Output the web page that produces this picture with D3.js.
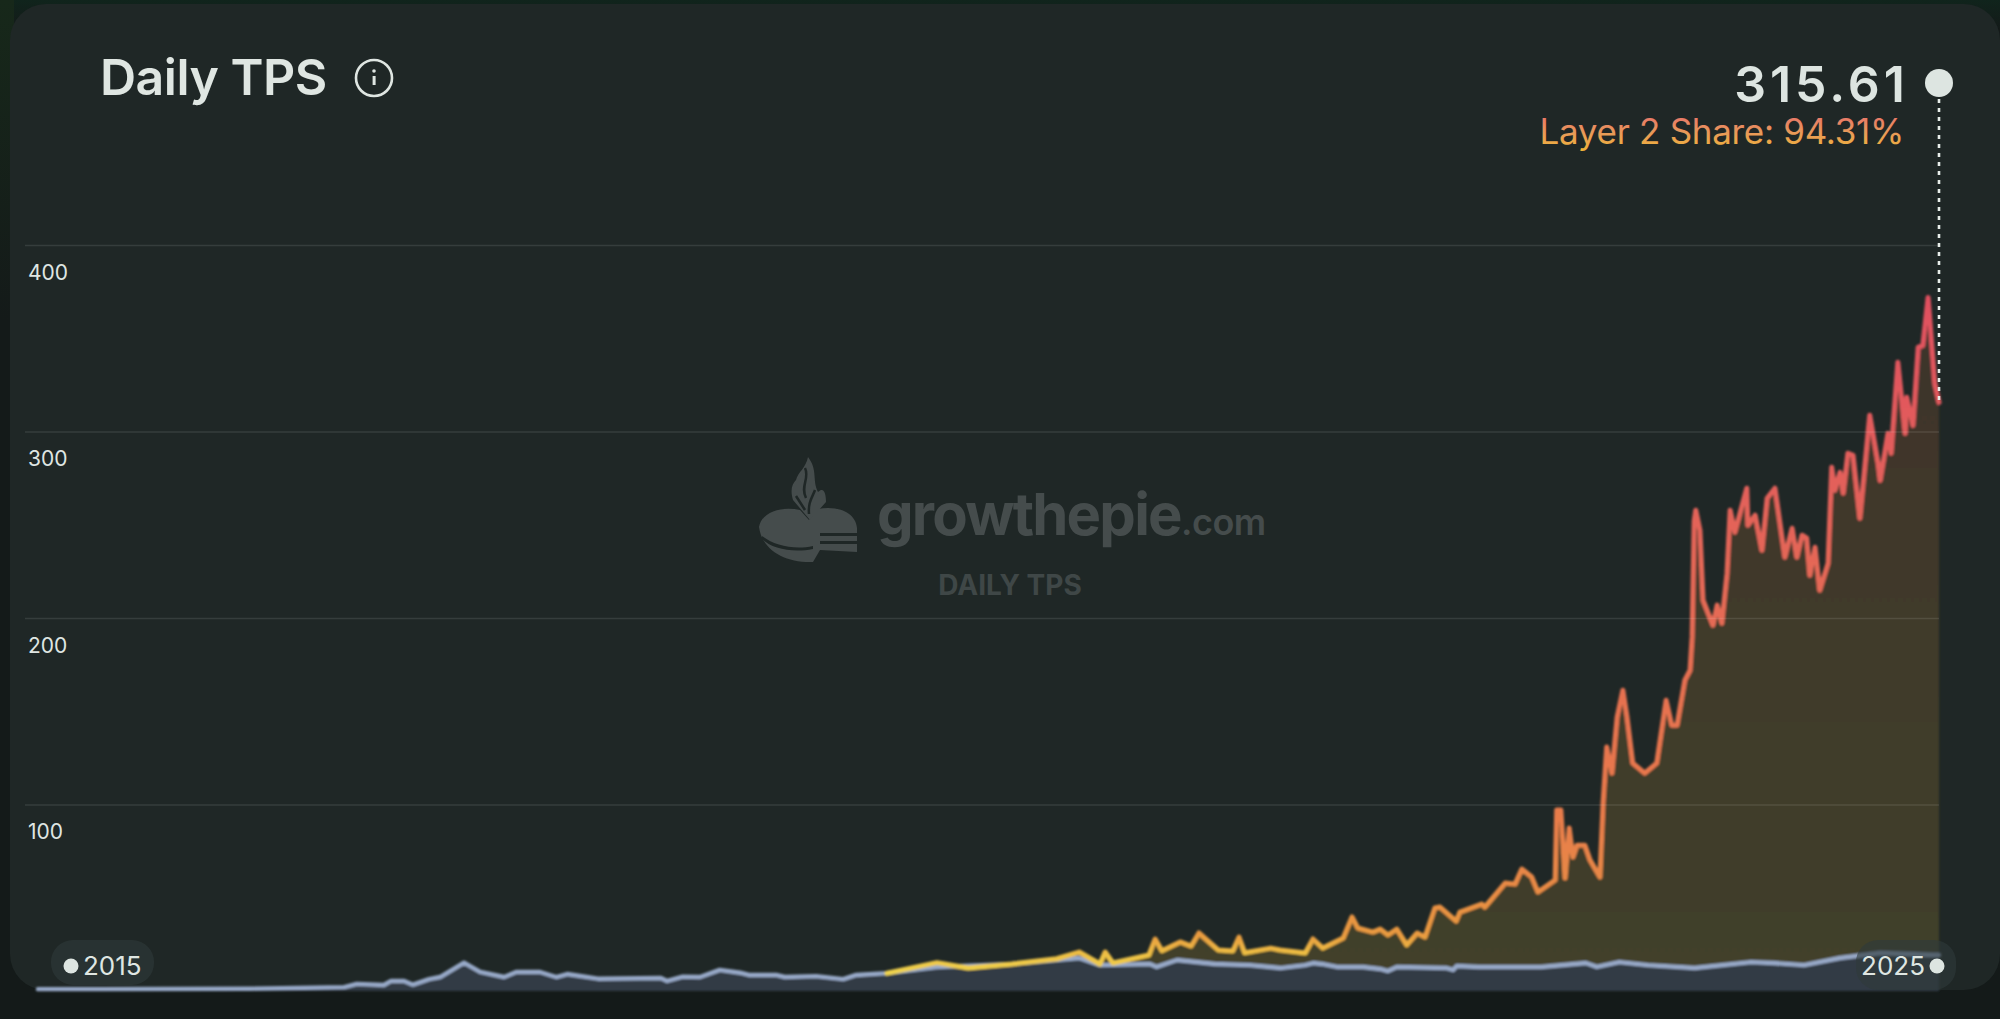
<!DOCTYPE html>
<html>
<head>
<meta charset="utf-8">
<script src="https://cdn.jsdelivr.net/npm/d3@7"></script>
<style>
  html, body { margin: 0; padding: 0; background: #141a19; overflow: hidden; }
  svg { display: block; }
  text { font-family: "Inter", "Noto Sans", sans-serif; }
</style>
</head>
<body>
<svg id="chart"></svg>
<script>
// days counted from the "2015" end of the range
const l1Days = [0, 119, 407, 588, 612, 664, 678, 703, 720, 751, 772, 818, 849, 895, 918, 964, 995, 1016, 1075, 1196, 1208, 1238, 1271, 1309, 1348, 1365, 1417, 1434, 1494, 1546, 1571, 1630, 1726, 1870, 1999, 2039, 2135, 2148, 2187, 2260, 2327, 2365, 2385, 2433, 2448, 2465, 2494, 2544, 2577, 2592, 2609, 2705, 2717, 2724, 2767, 2886, 2972, 2993, 3036, 3091, 3181, 3289, 3331, 3391, 3460, 3537, 3640, 3650];
const l1Values = [1, 1, 1.2, 2.1, 3.8, 3.2, 5.4, 5.4, 3.4, 6.4, 7.5, 15.2, 10.3, 7.5, 10.2, 10.2, 7.5, 9.1, 6.6, 7, 5.4, 7.7, 7.5, 11.3, 9.8, 8.6, 8.6, 7.5, 8, 6.4, 8.6, 9.6, 12.9, 14.5, 17.7, 13.9, 14.5, 12.9, 16.6, 14.5, 13.9, 12.9, 12.3, 13.9, 15, 14.5, 12.9, 12.9, 11.8, 10.7, 12.9, 12.3, 11.3, 13.4, 12.9, 12.9, 15, 12.9, 15.5, 13.9, 12.3, 15.5, 15, 13.9, 17.7, 20.4, 19.3, 19.3];

const totalDays = [1630, 1726, 1786, 1870, 1956, 1999, 2039, 2049, 2064, 2133, 2145, 2158, 2193, 2214, 2229, 2266, 2294, 2306, 2317, 2367, 2385, 2433, 2448, 2467, 2506, 2523, 2534, 2563, 2577, 2592, 2609, 2628, 2648, 2663, 2682, 2692, 2723, 2730, 2772, 2778, 2817, 2836, 2849, 2868, 2880, 2913, 2916, 2924, 2932, 2940, 2947, 2955, 2970, 2980, 2999, 3005, 3012, 3022, 3032, 3043, 3051, 3062, 3085, 3108, 3126, 3137, 3147, 3162, 3172, 3176, 3180, 3183, 3191, 3197, 3216, 3224, 3233, 3243, 3249, 3258, 3281, 3283, 3297, 3310, 3320, 3335, 3354, 3368, 3377, 3387, 3396, 3402, 3412, 3421, 3437, 3444, 3450, 3460, 3466, 3475, 3485, 3498, 3517, 3533, 3537, 3552, 3558, 3571, 3585, 3588, 3600, 3610, 3619, 3629, 3642, 3650];
const totalValues = [9.6, 15.2, 12.3, 14.5, 17.3, 20.9, 14.5, 20.9, 15, 19.3, 27.9, 21.6, 26.3, 24.1, 31.1, 22, 21.4, 28.9, 20.5, 23, 22, 20.4, 27.9, 23, 28.4, 39.7, 33.8, 31.6, 33.2, 30, 33.2, 24.7, 31.1, 28.9, 44.5, 45, 37.5, 42.3, 46.6, 45, 57.9, 57.3, 65.4, 61.1, 53.1, 59.5, 97, 97, 60.6, 87.4, 71.8, 78.2, 78.2, 70.2, 61.1, 100.8, 130.8, 116.8, 146.8, 161.3, 146.8, 122.2, 116.8, 122.2, 155.9, 142.5, 142.5, 166.7, 172, 190, 252, 257.8, 247.1, 209.5, 196.1, 206.9, 197.2, 224, 257.8, 246, 269.6, 249.7, 255.1, 236.3, 264.2, 269.6, 232.6, 248.1, 232.6, 244.4, 242.8, 222.9, 237.9, 214.9, 229.4, 280.8, 268.5, 278.1, 266.9, 288.3, 287.2, 253.5, 308.7, 283, 273.8, 299, 288.3, 337.1, 299, 318.3, 303.3, 345.1, 346.2, 371.9, 325.8, 315.61];

const yTicks = [100, 200, 300, 400];
const yearLabels = ["2015", "2025"];
const titleText = "Daily TPS";
const lastValueText = "315.61";
const shareText = "Layer 2 Share: 94.31%";

const width = 2000, height = 1019;
const x = d3.scaleLinear().domain([0, 3650]).range([38, 1939]);
const y = d3.scaleLinear().domain([0, 400]).range([991, 245]);

const svg = d3.select("#chart").attr("width", width).attr("height", height);
const defs = svg.append("defs");

// vertical gradients tied to the value axis, like the original
function vGradient(id, y1, y2, stops) {
  const g = defs.append("linearGradient").attr("id", id)
    .attr("gradientUnits", "userSpaceOnUse")
    .attr("x1", 0).attr("x2", 0).attr("y1", y1).attr("y2", y2);
  stops.forEach(s => g.append("stop").attr("offset", s[0]).attr("stop-color", s[1]));
}
vGradient("lineGrad", 300, 975, [[0, "#e0505f"], [0.3, "#e3625a"], [0.75, "#e87a4b"], [0.87, "#e88a45"], [0.94, "#e99a40"], [0.97, "#edc044"], [1, "#f0d64e"]]);
vGradient("areaGrad", 300, 991, [[0, "#3e332d"], [0.45, "#403a2b"], [1, "#424029"]]);
vGradient("shareGrad", 116, 150, [[0, "#e8766a"], [0.5, "#e89a58"], [1, "#efb33a"]]);
vGradient("bgTop", 0, 30, [[0, "#10241c"], [1, "#141a19"]]);
vGradient("bgLeft", 0, 320, [[0, "#17281a"], [1, "#141a19"]]);

defs.append("filter").attr("id", "soft").attr("x", "-2%").attr("y", "-2%").attr("width", "104%").attr("height", "104%")
  .append("feGaussianBlur").attr("stdDeviation", 0.8);

// page and card
svg.append("rect").attr("width", width).attr("height", height).attr("fill", "url(#bgTop)");
svg.append("rect").attr("x", 0).attr("y", 0).attr("width", 14).attr("height", 320).attr("fill", "url(#bgLeft)");
svg.append("rect").attr("x", 10).attr("y", 4).attr("width", 1990).attr("height", 986)
  .attr("rx", 36).attr("fill", "#1f2726");

// watermark
const mark = svg.append("g").attr("fill", "#454c4c");
mark.append("path").attr("d", "M759 527 C762 511 783 506 800 510 L809 520 L818 509 C836 505 856 512 857 528 L857 552 L820 550 L813 562 C785 563 762 550 759 527 Z");
mark.append("path").attr("fill", "#1f2726").attr("d", "M762 536 C775 546 795 550 813 546 L813 549 C793 553 772 549 762 539 Z M820 533 H858 V536 H820 Z M820 541 H858 V544 H820 Z");
mark.append("path").attr("d", "M808 457 C818 470 812 480 818 492 C824 486 826 494 826 502 L810 520 L793 500 C790 490 792 484 796 480 C798 472 806 468 808 457 Z");
mark.append("path").attr("fill", "none").attr("stroke", "#1f2726").attr("stroke-width", 2.5)
  .attr("d", "M805 468 C810 478 800 486 806 498 M815 490 C812 498 808 502 809 514 M796 496 L805 510");
mark.append("text").attr("x", 877).attr("y", 535).attr("font-size", 58).attr("font-weight", 700)
  .attr("letter-spacing", -1.8).text("growthepie");
mark.append("text").attr("x", 1181).attr("y", 535).attr("font-size", 36).attr("font-weight", 600)
  .attr("letter-spacing", -0.5).text(".com");
mark.append("text").attr("x", 1010).attr("y", 595).attr("text-anchor", "middle").attr("fill", "#3f4747")
  .attr("font-size", 28).attr("font-weight", 700).text("DAILY TPS");

// areas
const totalData = totalDays.map((d, i) => [d, totalValues[i]]);
const l1Data = l1Days.map((d, i) => [d, l1Values[i]]);
const area = d3.area().x(d => x(d[0])).y0(y(0)).y1(d => y(d[1]));
const line = d3.line().x(d => x(d[0])).y(d => y(d[1]));

const plot = svg.append("g").attr("filter", "url(#soft)");
plot.append("path").datum(totalData).attr("d", area).attr("fill", "url(#areaGrad)");
plot.append("path").datum(l1Data).attr("d", area).attr("fill", "#333a44");

// y axis: grid lines with the labels hanging below them
const axis = svg.append("g").attr("transform", `translate(25,0)`)
  .call(d3.axisRight(y).tickValues(yTicks).tickSize(1914).tickFormat(d3.format("d")));
axis.select(".domain").remove();
axis.selectAll("line").attr("stroke", "#fff").attr("stroke-opacity", 0.1).attr("stroke-width", 1.5);
axis.selectAll("text").attr("x", 3).attr("dy", 34).attr("text-anchor", "start")
  .attr("fill", "#dfe6e3").attr("font-size", 21).attr("font-family", "Inter, sans-serif");

// lines, the total sits on top where the two meet
plot.append("path").datum(l1Data).attr("d", line).attr("fill", "none")
  .attr("stroke", "#97a9c8").attr("stroke-width", 4.4).attr("stroke-linejoin", "round").attr("stroke-linecap", "round");
plot.append("path").datum(totalData).attr("d", line).attr("fill", "none")
  .attr("stroke", "url(#lineGrad)").attr("stroke-width", 5).attr("stroke-linejoin", "round").attr("stroke-linecap", "round");

// title and info icon
svg.append("text").attr("x", 100).attr("y", 95).attr("fill", "#dfe6e2")
  .attr("font-size", 50).attr("font-weight", 600).attr("letter-spacing", -0.5).text(titleText);
svg.append("circle").attr("cx", 374).attr("cy", 78).attr("r", 18).attr("fill", "none")
  .attr("stroke", "#dfe6e2").attr("stroke-width", 2.6);
svg.append("rect").attr("x", 372.6).attr("y", 76).attr("width", 3).attr("height", 9).attr("fill", "#dfe6e2");
svg.append("circle").attr("cx", 374).attr("cy", 71).attr("r", 1.8).attr("fill", "#dfe6e2");

// last value callout
const lastX = x(totalDays[totalDays.length - 1]);
const lastY = y(totalValues[totalValues.length - 1]);
svg.append("line").attr("x1", lastX).attr("x2", lastX).attr("y1", 90).attr("y2", lastY)
  .attr("stroke", "#e8eeea").attr("stroke-width", 2.6).attr("stroke-dasharray", "4 5");
svg.append("circle").attr("cx", lastX).attr("cy", 83).attr("r", 14).attr("fill", "#dde5e1");
svg.append("text").attr("x", 1909).attr("y", 102).attr("text-anchor", "end").attr("fill", "#dde5e1")
  .attr("font-size", 50).attr("font-weight", 600).attr("letter-spacing", 4)
  .attr("font-family", "'Open Sans', sans-serif").text(lastValueText);
svg.append("text").attr("x", 1904).attr("y", 144).attr("text-anchor", "end").attr("fill", "url(#shareGrad)")
  .attr("font-size", 35).attr("font-weight", 400).attr("letter-spacing", -0.3).text(shareText);

// range end pills
const pills = [
  { px: 51, w: 103, h: 45, py: 940, dot: 71, tx: 83, anchor: "start", label: yearLabels[0] },
  { px: 1856, w: 100, h: 50, py: 940, dot: 1937, tx: 1925, anchor: "end", label: yearLabels[1] }
];
pills.forEach(p => {
  svg.append("rect").attr("x", p.px).attr("y", p.py).attr("width", p.w).attr("height", p.h)
    .attr("rx", 22).attr("fill", "#2f3a3a").attr("fill-opacity", 0.62);
  svg.append("circle").attr("cx", p.dot).attr("cy", 966).attr("r", 7.5).attr("fill", "#dde5e1");
  svg.append("text").attr("x", p.tx).attr("y", 975).attr("text-anchor", p.anchor)
    .attr("fill", "#dfe6e2").attr("font-size", 26).text(p.label);
});
</script>
</body>
</html>
